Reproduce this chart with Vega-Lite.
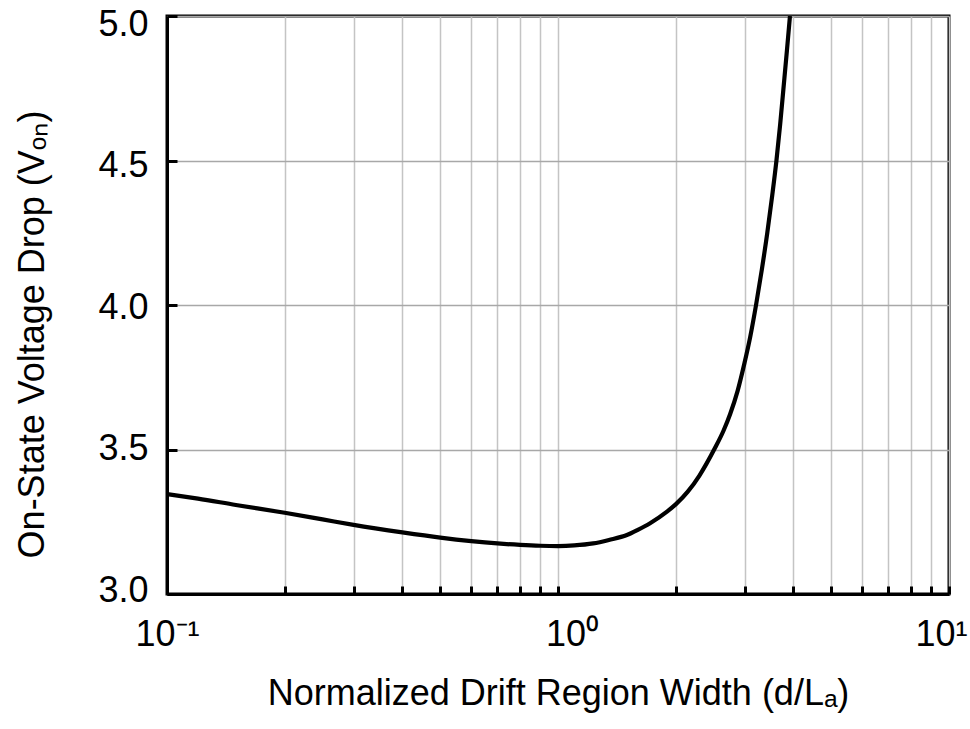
{
  "$schema": "https://vega.github.io/schema/vega-lite/v6.json",
  "width": 782,
  "height": 578,
  "autosize": {"type": "none"},
  "padding": {"left": 167, "top": 16, "right": 21, "bottom": 135},
  "background": "white",
  "config": {
    "font": "Liberation Sans",
    "view": {"stroke": "black", "strokeWidth": 3}
  },
  "data": {
    "values": [
      {"x": 0.1, "v": 3.346},
      {"x": 0.12, "v": 3.33},
      {"x": 0.15, "v": 3.308},
      {"x": 0.2, "v": 3.281},
      {"x": 0.25, "v": 3.258},
      {"x": 0.3, "v": 3.239},
      {"x": 0.4, "v": 3.213},
      {"x": 0.5, "v": 3.195},
      {"x": 0.6, "v": 3.183},
      {"x": 0.7, "v": 3.175},
      {"x": 0.8, "v": 3.17},
      {"x": 0.9, "v": 3.167},
      {"x": 1.0, "v": 3.166},
      {"x": 1.1, "v": 3.168},
      {"x": 1.23, "v": 3.175},
      {"x": 1.35, "v": 3.187},
      {"x": 1.5, "v": 3.204},
      {"x": 1.6, "v": 3.222},
      {"x": 1.72, "v": 3.245},
      {"x": 1.9, "v": 3.285},
      {"x": 2.0, "v": 3.31},
      {"x": 2.15, "v": 3.355},
      {"x": 2.3, "v": 3.41},
      {"x": 2.4, "v": 3.452},
      {"x": 2.52, "v": 3.505},
      {"x": 2.65, "v": 3.565},
      {"x": 2.755, "v": 3.622},
      {"x": 2.88, "v": 3.703},
      {"x": 3.0, "v": 3.8},
      {"x": 3.1, "v": 3.888},
      {"x": 3.21, "v": 4.0},
      {"x": 3.32, "v": 4.121},
      {"x": 3.43, "v": 4.25},
      {"x": 3.53, "v": 4.378},
      {"x": 3.62, "v": 4.5},
      {"x": 3.7, "v": 4.625},
      {"x": 3.77, "v": 4.745},
      {"x": 3.85, "v": 4.88},
      {"x": 3.92, "v": 5.0}
    ]
  },
  "mark": {"type": "line", "color": "black", "strokeWidth": 4.2, "clip": true, "interpolate": "monotone"},
  "encoding": {
    "x": {
      "field": "x",
      "type": "quantitative",
      "scale": {"type": "log", "domain": [0.1, 10], "nice": false},
      "axis": {
        "title": "Normalized Drift Region Width (d/Lₐ)",
        "titleFont": "Liberation Sans",
        "titleFontSize": 36,
        "titleFontWeight": "normal",
        "titleColor": "black",
        "titleBaseline": "alphabetic",
        "titleY": 110,
        "values": [0.1, 0.2, 0.3, 0.4, 0.5, 0.6, 0.7, 0.8, 0.9, 1, 2, 3, 4, 5, 6, 7, 8, 9, 10],
        "labelExpr": "datum.value == 0.1 ? '10⁻¹' : (datum.value == 1 ? '10⁰' : (datum.value == 10 ? '10¹' : ''))",
        "labelFontSize": 36,
        "labelColor": "black",
        "labelPadding": 31,
        "labelOffset": {"condition": [{"test": "datum.value == 1", "value": 14}, {"test": "datum.value == 10", "value": -8}], "value": 0},
        "labelFlush": false,
        "labelOverlap": false,
        "tickSize": -8,
        "tickWidth": 3,
        "tickColor": "black",
        "domainColor": "black",
        "domainWidth": 3,
        "grid": true,
        "gridColor": "#c4c4c4",
        "gridWidth": 1.5
      }
    },
    "y": {
      "field": "v",
      "type": "quantitative",
      "scale": {"domain": [3.0, 5.0], "nice": false, "zero": false},
      "axis": {
        "title": "On-State Voltage Drop (Vₒₙ)",
        "titleFont": "Liberation Sans",
        "titleFontSize": 36,
        "titleFontWeight": "normal",
        "titleColor": "black",
        "titleAngle": -90,
        "titleBaseline": "alphabetic",
        "titleX": -124,
        "titleY": 318,
        "values": [3.0, 3.5, 4.0, 4.5, 5.0],
        "format": ".1f",
        "labelFontSize": 36,
        "labelColor": "black",
        "labelPadding": 29,
        "labelOffset": {"condition": [{"test": "datum.value == 5", "value": 8}, {"test": "datum.value == 4.5", "value": 5}, {"test": "datum.value == 4", "value": 2}, {"test": "datum.value == 3.5", "value": -1}], "value": -4},
        "tickSize": -10,
        "tickWidth": 3,
        "tickColor": "black",
        "domainColor": "black",
        "domainWidth": 3,
        "grid": true,
        "gridColor": "#a8a8a8",
        "gridWidth": 1.5
      }
    }
  }
}
